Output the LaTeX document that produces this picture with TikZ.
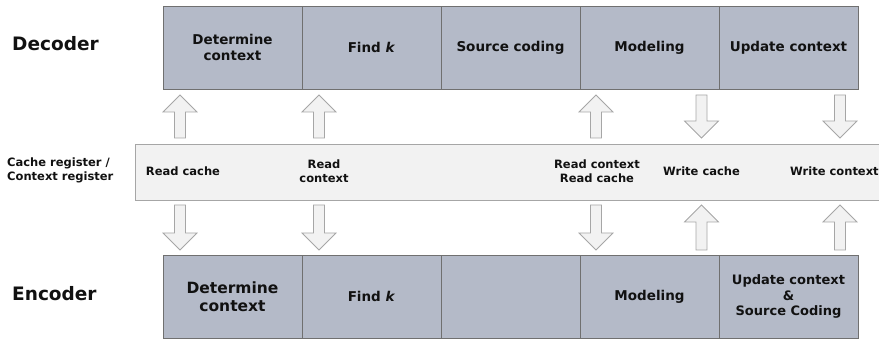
\documentclass[tikz,border=0pt]{standalone}
\usepackage{fontspec}
\setmainfont{DejaVu Sans}
\definecolor{stagefill}{HTML}{B4BAC8}
\definecolor{stageline}{HTML}{707070}
\definecolor{regfill}{HTML}{F2F2F2}
\definecolor{regline}{HTML}{A6A6A6}
\definecolor{ink}{HTML}{111111}
\tikzset{
  stagebox/.style={draw=stageline, fill=stagefill, line width=0.9pt,
    minimum width=139pt, minimum height=83pt, inner sep=0pt,
    align=center, text=ink, font=\bfseries\fontsize{13.5}{16}\selectfont},
  rowlabel/.style={text=ink, inner sep=0pt, font=\bfseries\fontsize{18.5}{22}\selectfont},
  reglabel/.style={text=ink, inner sep=0pt, align=center,
    font=\bfseries\fontsize{11.5}{14}\selectfont},
  blockarrow/.style={draw=regline, fill=regfill, line width=0.8pt, line join=miter},
}
% block arrow pointing up: centre x, tip y, tail y
\newcommand{\arrowup}[3]{%
  \draw[blockarrow] ({#1-5.5},#3) -- ({#1-5.5},{#2+17}) -- ({#1-17},{#2+17})
    -- (#1,#2) -- ({#1+17},{#2+17}) -- ({#1+5.5},{#2+17}) -- ({#1+5.5},#3) -- cycle;}
% block arrow pointing down: centre x, tail y, tip y
\newcommand{\arrowdown}[3]{%
  \draw[blockarrow] ({#1-5.5},#2) -- ({#1-5.5},{#3-17}) -- ({#1-17},{#3-17})
    -- (#1,#3) -- ({#1+17},{#3-17}) -- ({#1+5.5},{#3-17}) -- ({#1+5.5},#2) -- cycle;}
\begin{document}
\begin{tikzpicture}[x=1pt, y=-1pt]
  \useasboundingbox (0,0) rectangle (879,339);
  \clip (0,0) rectangle (879,339);

  % row labels
  \node[rowlabel, anchor=west] (dec) at (12,44) {Decoder};
  \node[rowlabel, anchor=west] (enc) at (12,294) {Encoder};
  \node[reglabel, anchor=west, align=left] (reg) at (7,170.5) {Cache register /\\Context register};

  % decoder stages
  \node[stagebox] (d1) at (232.5,47.5) {Determine\\context};
  \node[stagebox] (d2) at (371.5,47.5) {Find \textit{k}};
  \node[stagebox] (d3) at (510.5,47.5) {Source coding};
  \node[stagebox] (d4) at (649.5,47.5) {Modeling};
  \node[stagebox] (d5) at (788.5,47.5) {Update context};

  % shared register strip
  \draw[draw=regline, fill=regfill, line width=0.9pt] (135,144) rectangle (900,200.5);
  \node[reglabel] (r1) at (183,171.5) {Read cache};
  \node[reglabel] (r2) at (324,171.5) {Read\\context};
  \node[reglabel] (r3) at (597,171.5) {Read context\\Read cache};
  \node[reglabel] (r4) at (701.5,171.5) {Write cache};
  \node[reglabel, anchor=west] (r5) at (790,171.5) {Write context};

  % encoder stages
  \node[stagebox, font=\bfseries\fontsize{15.5}{18}\selectfont] (e1) at (232.5,296.5) {Determine\\context};
  \node[stagebox] (e2) at (371.5,296.5) {Find \textit{k}};
  \node[stagebox] (e3) at (510.5,296.5) {};
  \node[stagebox] (e4) at (649.5,296.5) {Modeling};
  \node[stagebox, font=\bfseries\fontsize{13}{15.5}\selectfont] (e5) at (788.5,296.5) {Update context\\\&\\Source Coding};

  % transfers between decoder and register
  \arrowup{180}{95}{138}
  \arrowup{319}{95}{138}
  \arrowup{596}{95}{138}
  \arrowdown{701.5}{95}{138}
  \arrowdown{840}{95}{138}

  % transfers between register and encoder
  \arrowdown{180}{205}{250}
  \arrowdown{319}{205}{250}
  \arrowdown{596}{205}{250}
  \arrowup{701.5}{205}{250}
  \arrowup{840}{205}{250}
\end{tikzpicture}
\end{document}
